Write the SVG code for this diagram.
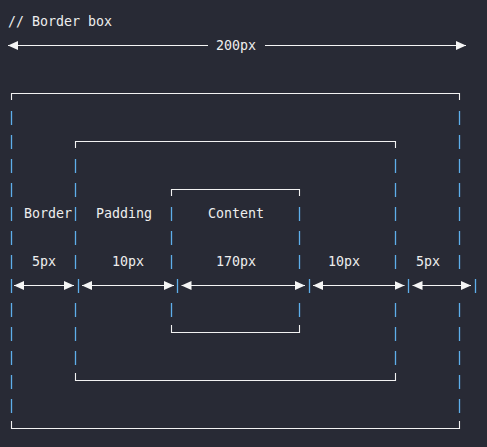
<svg xmlns="http://www.w3.org/2000/svg" width="487" height="447" viewBox="0 0 487 447">
  <style>
    .bg { fill: #282a35; }
    .t { font-family: "DejaVu Sans Mono", "Liberation Mono", monospace; font-size: 13.3px; fill: #eeeeee; }
    .edge { fill: none; stroke: #f2f2f2; stroke-width: 1.1; }
    .bar { fill: none; stroke: #5eaeea; stroke-width: 1.3; }
    .dim { fill: none; stroke: #f5f5f5; stroke-width: 1.1; }
  </style>
  <defs>
    <marker id="ah" markerUnits="userSpaceOnUse" markerWidth="10" markerHeight="9" refX="10" refY="4.5" orient="auto-start-reverse">
      <path d="M0,0 L10,4.5 L0,9 z" fill="#f5f5f5"/>
    </marker>
  </defs>
  <rect class="bg" x="0" y="0" width="487" height="447"/>

  <text class="t" x="8" y="25.5">// Border box</text>

  <g id="outer-box">
    <path class="edge" d="M11.5,100 V93.5 H459.5 V100"/>
    <path class="edge" d="M11.5,421 V428.5 H459.5 V421"/>
    <path class="bar" d="M11.5,111v14M11.5,135v14M11.5,159v14M11.5,183v14M11.5,207v14M11.5,231v14M11.5,255v14M11.5,303v14M11.5,327v14M11.5,351v14M11.5,375v14M11.5,399v14"/>
    <path class="bar" d="M459.5,111v14M459.5,135v14M459.5,159v14M459.5,183v14M459.5,207v14M459.5,231v14M459.5,255v14M459.5,303v14M459.5,327v14M459.5,351v14M459.5,375v14M459.5,399v14"/>
    <text class="t" x="24" y="217.5">Border</text>
    <text class="t" x="32" y="265.5">5px</text>
    <text class="t" x="416" y="265.5">5px</text>
  </g>

  <g id="padding-box">
    <path class="edge" d="M75.5,148 V141.5 H395.5 V148"/>
    <path class="edge" d="M75.5,373 V380.5 H395.5 V373"/>
    <path class="bar" d="M75.5,159v14M75.5,183v14M75.5,207v14M75.5,231v14M75.5,255v14M75.5,303v14M75.5,327v14M75.5,351v14"/>
    <path class="bar" d="M395.5,159v14M395.5,183v14M395.5,207v14M395.5,231v14M395.5,255v14M395.5,303v14M395.5,327v14M395.5,351v14"/>
    <text class="t" x="96" y="217.5">Padding</text>
    <text class="t" x="112" y="265.5">10px</text>
    <text class="t" x="328" y="265.5">10px</text>
  </g>

  <g id="content-box">
    <path class="edge" d="M171.5,196 V189.5 H299.5 V196"/>
    <path class="edge" d="M171.5,325 V332.5 H299.5 V325"/>
    <path class="bar" d="M171.5,207v14M171.5,231v14M171.5,255v14M171.5,303v14"/>
    <path class="bar" d="M299.5,207v14M299.5,231v14M299.5,255v14M299.5,303v14"/>
    <text class="t" x="208" y="217.5">Content</text>
    <text class="t" x="216" y="265.5">170px</text>
  </g>

  <g id="connectors">
    <line class="dim" x1="8" y1="45.5" x2="208" y2="45.5" marker-start="url(#ah)"/>
    <line class="dim" x1="265" y1="45.5" x2="466" y2="45.5" marker-end="url(#ah)"/>
    <text class="t" x="216" y="49.5">200px</text>

    <path class="bar" d="M11.5,279v14M78.5,279v14M177.5,279v14M309.5,279v14M408.5,279v14M475.5,279v14"/>
    <line class="dim" x1="14" y1="285.5" x2="74" y2="285.5" marker-start="url(#ah)" marker-end="url(#ah)"/>
    <line class="dim" x1="82" y1="285.5" x2="174" y2="285.5" marker-start="url(#ah)" marker-end="url(#ah)"/>
    <line class="dim" x1="181.5" y1="285.5" x2="305" y2="285.5" marker-start="url(#ah)" marker-end="url(#ah)"/>
    <line class="dim" x1="313" y1="285.5" x2="404.5" y2="285.5" marker-start="url(#ah)" marker-end="url(#ah)"/>
    <line class="dim" x1="412.5" y1="285.5" x2="471" y2="285.5" marker-start="url(#ah)" marker-end="url(#ah)"/>
  </g>
</svg>
